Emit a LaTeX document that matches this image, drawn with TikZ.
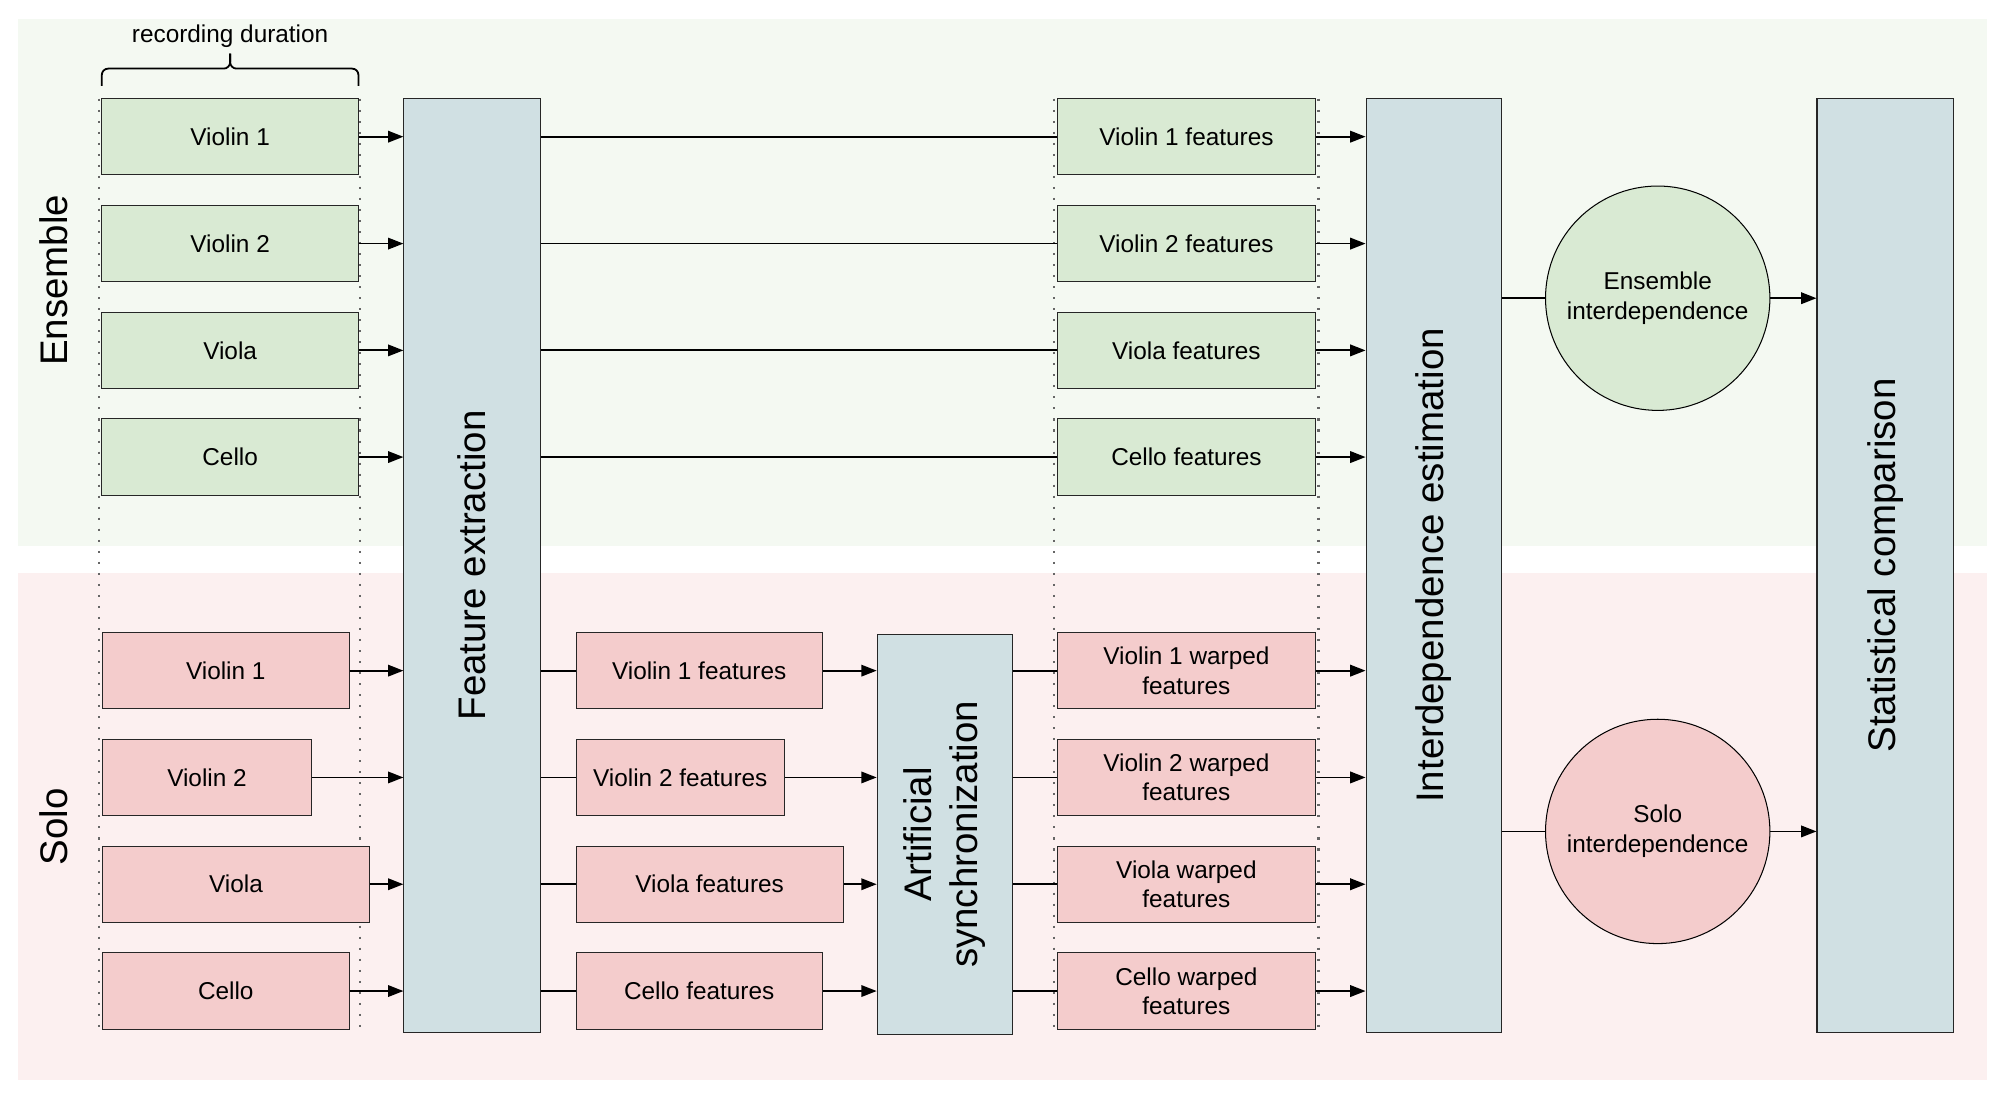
\documentclass[tikz,border=0pt]{standalone}
\usepackage{fontspec}
\setmainfont{Liberation Sans}
\usepackage{graphicx}
\usepackage{tikz}
\usetikzlibrary{arrows.meta}

\definecolor{enscol}{HTML}{D9EAD3}
\definecolor{solocol}{HTML}{F4CCCC}
\definecolor{proccol}{HTML}{D0E0E3}
\definecolor{ensbg}{HTML}{F4F9F2}
\definecolor{solobg}{HTML}{FCF0F0}

\tikzset{
    box/.style={draw=black!85, line width=0.8pt, minimum height=59.5pt, inner sep=0pt,
        font=\fontsize{19}{23}\selectfont, align=center},
    ensbox/.style={box, fill=enscol},
    solobox/.style={box, fill=solocol},
    proc/.style={draw=black!85, line width=0.8pt, fill=proccol, inner sep=0pt,
        font=\fontsize{30}{36}\selectfont, align=center},
    result/.style={circle, draw=black, line width=0.8pt, minimum size=175pt, inner sep=0pt,
        font=\fontsize{19}{23}\selectfont, align=center},
    link/.style={line width=1.4pt},
    flow/.style={link, -{Triangle[length=12pt,width=9pt]}},
    guide/.style={black!60, line width=1.6pt, dash pattern=on 1.6pt off 7pt},
}

\begin{document}
\begin{tikzpicture}[x=1pt, y=-1pt]
    \useasboundingbox (0,0) rectangle (1560,855);

    % draw backgrounds
    \fill[ensbg] (14,14.6) rectangle (1550,425.5);
    \fill[solobg] (14,446.7) rectangle (1550,842);

    % draw group labels
    \node[font=\fontsize{30}{36}\selectfont, rotate=90] (enslabel) at (42,218.7) {Ensemble};
    \node[font=\fontsize{30}{36}\selectfont, rotate=90] (sololabel) at (42,645) {Solo};

    % draw dotted guides
    \foreach \x in {77.3, 280.6, 822.3, 1028.4}
    \draw[guide] (\x,77) -- (\x,806);

    % draw brace
    \draw[line width=1.4pt, rounded corners=5pt] (79.4,67) |- (179.5,53.5) -- (179.5,41.8);
    \draw[line width=1.4pt, rounded corners=5pt] (279.6,67) |- (179.5,53.5) -- (179.5,41.8);
    \node[font=\fontsize{19}{23}\selectfont] (duration) at (179.5,28) {recording duration};

    % draw ensemble inputs
    \node[ensbox, minimum width=200.2pt] (e1) at (179.5,106.6) {Violin 1};
    \node[ensbox, minimum width=200.2pt] (e2) at (179.5,190.0) {Violin 2};
    \node[ensbox, minimum width=200.2pt] (e3) at (179.5,273.3) {Viola};
    \node[ensbox, minimum width=200.2pt] (e4) at (179.5,356.5) {Cello};

    % draw solo inputs
    \node[solobox, anchor=west, minimum width=192.6pt] (s1) at (79.4,523.1) {Violin 1};
    \node[solobox, anchor=west, minimum width=163.3pt] (s2) at (79.4,606.4) {Violin 2};
    \node[solobox, anchor=west, minimum width=208.6pt] (s3) at (79.4,689.7) {Viola};
    \node[solobox, anchor=west, minimum width=192.6pt] (s4) at (79.4,773.0) {Cello};

    % draw processing blocks
    \node[proc, minimum width=106.3pt, minimum height=728pt] (fe) at (368.2,441) {\rotatebox{90}{Feature extraction}};
    \node[proc, minimum width=105.8pt, minimum height=312.3pt] (as) at (737.1,650.8)
        {\rotatebox{90}{\begin{tabular}{@{}c@{}}Artificial\\synchronization\end{tabular}}};
    \node[proc, minimum width=105.9pt, minimum height=728pt] (ie) at (1118.5,441) {\rotatebox{90}{Interdependence estimation}};
    \node[proc, minimum width=106.5pt, minimum height=728pt] (sc) at (1470.5,441) {\rotatebox{90}{Statistical comparison}};

    % draw ensemble features
    \node[ensbox, minimum width=200.6pt] (ef1) at (925.4,106.6) {Violin 1 features};
    \node[ensbox, minimum width=200.6pt] (ef2) at (925.4,190.0) {Violin 2 features};
    \node[ensbox, minimum width=200.6pt] (ef3) at (925.4,273.3) {Viola features};
    \node[ensbox, minimum width=200.6pt] (ef4) at (925.4,356.5) {Cello features};

    % draw solo features
    \node[solobox, anchor=west, minimum width=191.9pt] (sf1) at (449,523.1) {Violin 1 features};
    \node[solobox, anchor=west, minimum width=162.4pt] (sf2) at (449,606.4) {Violin 2 features};
    \node[solobox, anchor=west, minimum width=208.2pt] (sf3) at (449,689.7) {Viola features};
    \node[solobox, anchor=west, minimum width=191.9pt] (sf4) at (449,773.0) {Cello features};

    % draw warped features
    \node[solobox, minimum width=200.6pt] (sw1) at (925.4,523.1) {Violin 1 warped\\features};
    \node[solobox, minimum width=200.6pt] (sw2) at (925.4,606.4) {Violin 2 warped\\features};
    \node[solobox, minimum width=200.6pt] (sw3) at (925.4,689.7) {Viola warped\\features};
    \node[solobox, minimum width=200.6pt] (sw4) at (925.4,773.0) {Cello warped\\features};

    % draw results
    \node[result, fill=enscol] (ensint) at (1293,232.6) {Ensemble\\interdependence};
    \node[result, fill=solocol] (soloint) at (1293,648.5) {Solo\\interdependence};

    % draw connectors
    \foreach \i in {1,...,4} {
        \draw[flow] (e\i.east) -- (e\i.east -| fe.west);
        \draw[link] (fe.east |- ef\i.west) -- (ef\i.west);
        \draw[flow] (ef\i.east) -- (ef\i.east -| ie.west);
        \draw[flow] (s\i.east) -- (s\i.east -| fe.west);
        \draw[link] (fe.east |- sf\i.west) -- (sf\i.west);
        \draw[flow] (sf\i.east) -- (sf\i.east -| as.west);
        \draw[link] (as.east |- sw\i.west) -- (sw\i.west);
        \draw[flow] (sw\i.east) -- (sw\i.east -| ie.west);
    }
    \draw[link] (ie.east |- ensint.west) -- (ensint.west);
    \draw[flow] (ensint.east) -- (ensint.east -| sc.west);
    \draw[link] (ie.east |- soloint.west) -- (soloint.west);
    \draw[flow] (soloint.east) -- (soloint.east -| sc.west);
\end{tikzpicture}
\end{document}
